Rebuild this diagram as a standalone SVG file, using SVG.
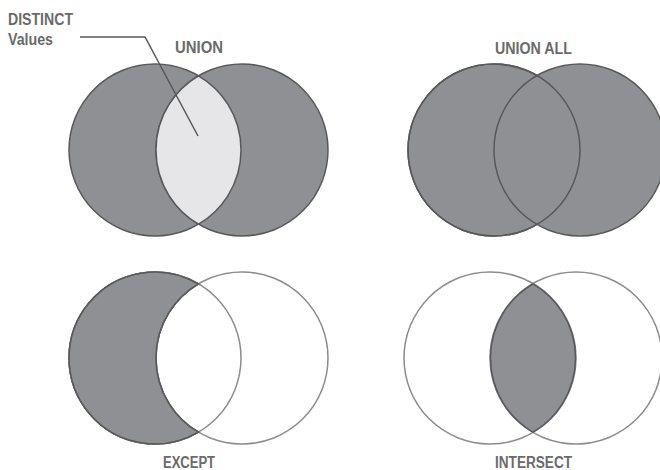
<svg xmlns="http://www.w3.org/2000/svg" width="660" height="470" viewBox="0 0 660 470">
<style>
.dark{fill:#8f9094;stroke:#58585a;stroke-width:1.5}
.light{fill:#e6e6e8;stroke:#58585a;stroke-width:1.5}
.open{fill:none;stroke:#8c8c8e;stroke-width:1.5}
.edge{fill:none;stroke:#58585a;stroke-width:1.5}
.lbl{font-family:"Liberation Sans",Arial,sans-serif;font-weight:bold;font-size:16px;fill:#6a6a6c}
</style>
<rect width="660" height="470" fill="#ffffff"/>
<g id="union">
<circle class="dark" cx="155" cy="150" r="86"/>
<circle class="dark" cx="242" cy="150" r="86"/>
<path class="light" d="M198.5,75.8 A86,86 0 0,1 198.5,224.2 A86,86 0 0,1 198.5,75.8 Z"/>
<text class="lbl" x="175" y="53" textLength="48" lengthAdjust="spacingAndGlyphs">UNION</text>
</g>
<g id="distinct-values">
<text class="lbl" x="8" y="25" textLength="65" lengthAdjust="spacingAndGlyphs">DISTINCT</text>
<text class="lbl" x="8" y="45" textLength="45" lengthAdjust="spacingAndGlyphs">Values</text>
</g>
<g id="union-all">
<circle class="dark" cx="494" cy="150" r="86"/>
<circle class="dark" cx="580" cy="150" r="86"/>
<circle class="edge" cx="494" cy="150" r="86"/>
<text class="lbl" x="495" y="54" textLength="77" lengthAdjust="spacingAndGlyphs">UNION ALL</text>
</g>
<g id="except">
<path class="dark" d="M198.5,283.8 A86,86 0 1,0 198.5,432.2 A86,86 0 0,1 198.5,283.8 Z"/>
<circle class="open" cx="155" cy="358" r="86"/>
<circle class="open" cx="242" cy="358" r="86"/>
<path class="edge" d="M198.5,283.8 A86,86 0 1,0 198.5,432.2 A86,86 0 0,1 198.5,283.8 Z"/>
<text class="lbl" x="163" y="468" textLength="52" lengthAdjust="spacingAndGlyphs">EXCEPT</text>
</g>
<g id="intersect">
<circle class="open" cx="490" cy="358" r="86"/>
<circle class="open" cx="576" cy="358" r="86"/>
<path class="dark" d="M533,283.8 A86,86 0 0,1 533,432.2 A86,86 0 0,1 533,283.8 Z"/>
<text class="lbl" x="495" y="468" textLength="77" lengthAdjust="spacingAndGlyphs">INTERSECT</text>
</g>
<g id="connectors">
<polyline class="edge" points="80,37 145,37 198,136"/>
</g>
</svg>
